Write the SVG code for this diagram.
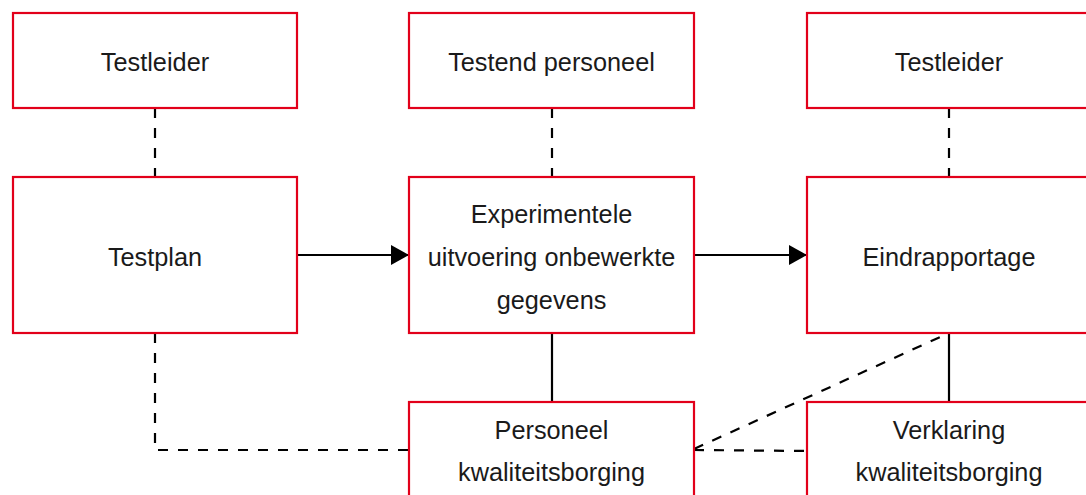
<svg xmlns="http://www.w3.org/2000/svg" width="1086" height="495" viewBox="0 0 1086 495">
<style>
.box{fill:#fff;stroke:#e2001a;stroke-width:2.2}
.t{font-family:"Liberation Sans",Arial,sans-serif;font-size:25.3px;fill:#1a1a1a;text-anchor:middle}
.c{fill:none;stroke:#000;stroke-width:2.2}
.d{stroke-dasharray:10 10}
</style>
<defs>
<marker id="ah" markerWidth="18" markerHeight="20" refX="18" refY="10" orient="auto" markerUnits="userSpaceOnUse">
<path d="M0,0 L18,10 L0,20 Z" fill="#000"/>
</marker>
</defs>
<rect width="1086" height="495" fill="#fff"/>
<g id="connectors">
<line class="c d" x1="155" y1="108" x2="155" y2="177"/>
<line class="c d" x1="552" y1="108" x2="552" y2="177"/>
<line class="c d" x1="949" y1="108" x2="949" y2="177"/>
<line class="c" x1="297" y1="255" x2="409" y2="255" marker-end="url(#ah)"/>
<line class="c" x1="694" y1="255" x2="807" y2="255" marker-end="url(#ah)"/>
<line class="c" x1="552" y1="333" x2="552" y2="402"/>
<line class="c" x1="949" y1="333" x2="949" y2="402"/>
<polyline class="c d" points="155,333 155,450 409,450"/>
<line class="c d" x1="694" y1="450" x2="807" y2="451"/>
<line class="c d" x1="694" y1="449" x2="949" y2="333"/>
</g>
<g id="n1"><rect class="box" x="13" y="13" width="284" height="95"/><text class="t" x="155" y="71">Testleider</text></g>
<g id="n2"><rect class="box" x="409" y="13" width="285" height="95"/><text class="t" x="551.5" y="71">Testend personeel</text></g>
<g id="n3"><rect class="box" x="807" y="13" width="284" height="95"/><text class="t" x="949" y="71">Testleider</text></g>
<g id="n4"><rect class="box" x="13" y="177" width="284" height="156"/><text class="t" x="155" y="266">Testplan</text></g>
<g id="n5"><rect class="box" x="409" y="177" width="285" height="156"/><text class="t" x="551.5"><tspan x="551.5" y="223">Experimentele</tspan><tspan x="551.5" y="266">uitvoering onbewerkte</tspan><tspan x="551.5" y="309">gegevens</tspan></text></g>
<g id="n6"><rect class="box" x="807" y="177" width="284" height="156"/><text class="t" x="949" y="266">Eindrapportage</text></g>
<g id="n7"><rect class="box" x="409" y="402" width="285" height="156"/><text class="t"><tspan x="551.5" y="439">Personeel</tspan><tspan x="551.5" y="481">kwaliteitsborging</tspan></text></g>
<g id="n8"><rect class="box" x="807" y="402" width="284" height="156"/><text class="t"><tspan x="949" y="439">Verklaring</tspan><tspan x="949" y="481">kwaliteitsborging</tspan></text></g>
</svg>
